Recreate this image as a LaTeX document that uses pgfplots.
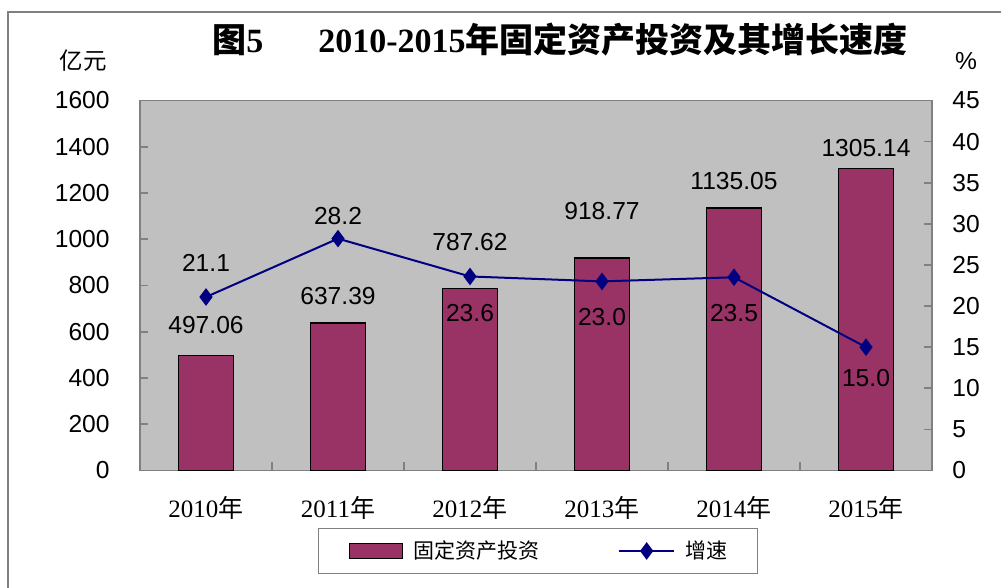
\documentclass[border=0pt]{standalone}
\usepackage{fontspec}
\setmainfont{Liberation Sans}
\newfontfamily\cjk{Noto Sans CJK SC}
\newfontfamily\serifd{Liberation Serif}
\usepackage{pgfplots}
\pgfplotsset{compat=1.18}
\definecolor{barc}{RGB}{153,51,102}
\definecolor{linec}{RGB}{0,0,128}
\definecolor{bgc}{RGB}{192,192,192}
\definecolor{axc}{RGB}{128,128,128}
\newcommand{\nf}{\fontsize{12.3}{14}\selectfont}
\pgfplotsset{
  barlegend/.style={legend image code/.code={\draw[fill=barc,draw=black,line width=0.8pt] (0pt,-3.75pt) rectangle (26.5pt,3.75pt);}},
  linelegend/.style={legend image code/.code={\draw[##1,mark repeat=2,mark phase=2] plot coordinates {(0pt,0pt) (13.75pt,0pt) (27.5pt,0pt)};}},
}
\begin{document}
\begin{tikzpicture}
\useasboundingbox (0,0) rectangle (500.5pt,294pt);
\draw[axc, line width=0.6pt] (4pt,0) -- (4pt,288pt) -- (500.5pt,288pt);
\node[anchor=west, inner sep=0pt] at (106pt,274pt) {\fontsize{17}{20}\selectfont\bfseries{\cjk 图}{\serifd 5}\hspace{27.5pt}{\serifd 2010-2015}{\cjk 年固定资产投资及其增长速度}};
\node at (41.5pt,263.5pt) {\cjk\fontsize{11.75}{14}\selectfont 亿元};
\node at (483pt,263.5pt) {\nf \%};

\begin{axis}[
  at={(70pt,58.75pt)}, anchor=south west, scale only axis,
  width=396pt, height=185pt,
  xmin=-0.5, xmax=5.5, ymin=0, ymax=1600,
  axis background/.style={fill=bgc},
  axis line style={axc, line width=0.8pt},
  tick style={axc, line width=0.8pt},
  tick align=inside, major tick length=4pt, minor tick length=4pt,
  ytick={0,200,...,1600}, ytick pos=left,
  xtick={0,1,2,3,4,5}, xtick pos=bottom,
  xticklabels={{2010{\cjk 年}},{2011{\cjk 年}},{2012{\cjk 年}},{2013{\cjk 年}},{2014{\cjk 年}},{2015{\cjk 年}}},
  major x tick style={draw=none},
  minor xtick={0.5,1.5,2.5,3.5,4.5},
  yticklabel style={font=\nf, anchor=east, inner sep=0pt, xshift=-15pt},
  xticklabel style={font=\serifd\fontsize{12.5}{14}\selectfont, anchor=center, inner sep=0pt, yshift=-18.75pt},
  /pgf/number format/assume math mode=true,
  /pgf/number format/1000 sep={},
  clip=false,
]
\addplot[ybar, bar width=27.5pt, fill=barc, draw=black, line width=0.8pt]
  coordinates {(0,497.06) (1,637.39) (2,787.62) (3,918.77) (4,1135.05) (5,1305.14)};
\node[font=\nf] at (axis cs:0,629) {497.06};
\node[font=\nf] at (axis cs:1,754) {637.39};
\node[font=\nf] at (axis cs:2,988) {787.62};
\node[font=\nf] at (axis cs:3,1122) {918.77};
\node[font=\nf] at (axis cs:4,1252) {1135.05};
\node[font=\nf] at (axis cs:5,1394) {1305.14};
\end{axis}

\begin{axis}[
  at={(70pt,58.75pt)}, anchor=south west, scale only axis,
  width=396pt, height=185pt,
  xmin=-0.5, xmax=5.5, ymin=0, ymax=45,
  axis x line=none, axis y line*=right,
  axis line style={axc, line width=0.8pt, -},
  tick style={axc, line width=0.8pt},
  tick align=inside, major tick length=4pt,
  ytick={0,5,...,45},
  yticklabel style={font=\nf, anchor=west, inner sep=0pt, xshift=10pt},
  /pgf/number format/assume math mode=true,
  clip=false,
  legend columns=2,
  legend style={at={(0.2247,-0.1554)}, anchor=north west, draw=axc, line width=0.6pt,
    font=\cjk\fontsize{10.5}{12}\selectfont, inner xsep=15pt, inner ysep=6pt,
    nodes={inner sep=0pt, anchor=west},
    /tikz/every odd column/.append style={column sep=5pt},
    /tikz/every even column/.append style={column sep=39.5pt}},
]
\addlegendimage{barlegend}
\addlegendentry{固定资产投资}
\addplot[linec, line width=1pt, mark=diamond*, mark size=3.6pt, mark options={solid, fill=linec}, linelegend]
  coordinates {(0,21.1) (1,28.2) (2,23.6) (3,23.0) (4,23.5) (5,15.0)};
\addlegendentry{增速}
\node[font=\nf] at (axis cs:0,25.2) {21.1};
\node[font=\nf] at (axis cs:1,30.9) {28.2};
\node[font=\nf] at (axis cs:2,19.15) {23.6};
\node[font=\nf] at (axis cs:3,18.7) {23.0};
\node[font=\nf] at (axis cs:4,19.1) {23.5};
\node[font=\nf] at (axis cs:5,11.25) {15.0};
\end{axis}
\end{tikzpicture}
\end{document}
